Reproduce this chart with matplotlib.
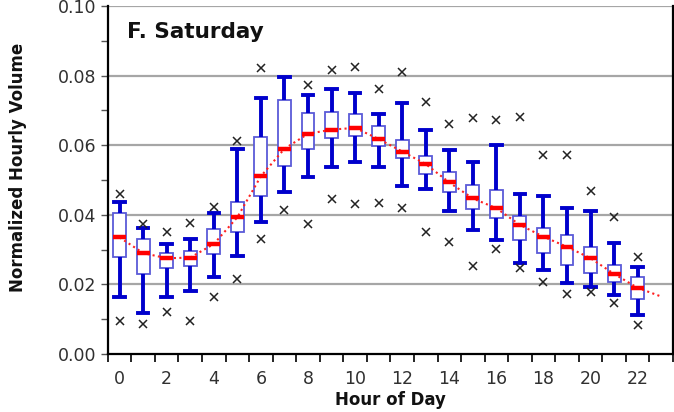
import matplotlib
matplotlib.use("Agg")
import matplotlib.pyplot as plt
from matplotlib.ticker import MultipleLocator, FixedLocator, NullFormatter

hours = list(range(23))
whislo = [0.0164, 0.0118, 0.0163, 0.0182, 0.0222, 0.0281, 0.0379, 0.0466, 0.0510, 0.0538, 0.0553, 0.0538,
          0.0484, 0.0474, 0.0411, 0.0355, 0.0329, 0.0262, 0.0240, 0.0204, 0.0192, 0.0168, 0.0111]
q1 = [0.0280, 0.0230, 0.0248, 0.0254, 0.0286, 0.0352, 0.0453, 0.0541, 0.0590, 0.0620, 0.0626, 0.0599,
      0.0563, 0.0517, 0.0467, 0.0416, 0.0392, 0.0327, 0.0291, 0.0257, 0.0233, 0.0206, 0.0159]
median = [0.0335, 0.0290, 0.0275, 0.0277, 0.0316, 0.0393, 0.0511, 0.0590, 0.0633, 0.0645, 0.0650, 0.0618,
          0.0582, 0.0546, 0.0493, 0.0447, 0.0419, 0.0371, 0.0337, 0.0308, 0.0275, 0.0230, 0.0190]
q3 = [0.0405, 0.0331, 0.0291, 0.0296, 0.0359, 0.0437, 0.0625, 0.0729, 0.0694, 0.0696, 0.0691, 0.0655,
      0.0616, 0.0570, 0.0524, 0.0486, 0.0472, 0.0397, 0.0363, 0.0341, 0.0308, 0.0257, 0.0221]
whishi = [0.0436, 0.0361, 0.0315, 0.0331, 0.0405, 0.0588, 0.0737, 0.0797, 0.0744, 0.0761, 0.0749, 0.0691,
          0.0723, 0.0645, 0.0585, 0.0551, 0.0601, 0.0460, 0.0455, 0.0421, 0.0411, 0.0320, 0.0251]
out_low = [0.0096, 0.0087, 0.0120, 0.0095, 0.0164, 0.0214, 0.0331, 0.0414, 0.0373, 0.0445, 0.0431, 0.0434,
           0.0419, 0.0352, 0.0323, 0.0254, 0.0303, 0.0248, 0.0206, 0.0173, 0.0177, 0.0147, 0.0084]
out_high = [0.0460, 0.0373, 0.0352, 0.0376, 0.0423, 0.0612, 0.0823, None, 0.0773, 0.0816, 0.0824, 0.0761,
            0.0810, 0.0725, 0.0662, 0.0679, 0.0673, 0.0681, 0.0572, 0.0573, 0.0469, 0.0395, 0.0279]
trend_hours = list(range(24))
trend = median + [0.0165]

xtick_labels = [str(h) for h in range(0, 23, 2)]
ytick_values = [0.00, 0.02, 0.04, 0.06, 0.08, 0.10]

stats = []
for i in hours:
    fl = [out_low[i]] + ([out_high[i]] if out_high[i] is not None else [])
    stats.append(dict(whislo=whislo[i], q1=q1[i], med=median[i], q3=q3[i],
                      whishi=whishi[i], fliers=fl))

TXT = "#303030"

fig = plt.figure(figsize=(6.74, 4.12), dpi=100)
ax = fig.add_axes([0.160, 0.141, 0.8385, 0.844])

for y in ytick_values[1:]:
    ax.axhline(y, color="#a6a6a6", lw=1.6, zorder=0)

ax.bxp(stats, positions=hours, widths=0.55, capwidths=0.45, patch_artist=True,
       boxprops=dict(facecolor="white", edgecolor="#5a5ad8", linewidth=1.3),
       whiskerprops=dict(color="#0000cc", linewidth=2.8, solid_capstyle="butt"),
       capprops=dict(color="#0000cc", linewidth=2.8),
       medianprops=dict(color="#ff0000", linewidth=3.2, solid_capstyle="butt", zorder=5),
       flierprops=dict(marker="x", markeredgecolor="#222222", markersize=6, markeredgewidth=1.1),
       manage_ticks=False, zorder=2)

ax.plot(trend_hours, trend, color="#ff2020", lw=1.5, ls=(0, (1, 1.6)), zorder=4)

ax.set_xlim(-0.5, 23.5)
ax.set_ylim(0, 0.10)
ax.xaxis.set_major_locator(FixedLocator([h - 0.5 for h in range(25)]))
ax.xaxis.set_major_formatter(NullFormatter())
for k, lab in enumerate(xtick_labels):
    ax.text(2 * k, -0.0045, lab, ha="center", va="top", fontsize=12.5, color=TXT,
            transform=ax.transData)
ax.set_yticks(ytick_values)
ax.set_yticklabels([f"{v:.2f}" for v in ytick_values], fontsize=12.5, color=TXT)
ax.yaxis.set_minor_locator(MultipleLocator(0.01))
ax.tick_params(axis="x", direction="out", length=6, width=1.2, color="black")
ax.tick_params(axis="y", which="both", direction="out", length=5, width=1.0, color="#555555")

for s in ["left", "bottom", "right"]:
    ax.spines[s].set_linewidth(1.6)
    ax.spines[s].set_color("black")
ax.spines["top"].set_visible(False)

ax.text(0.3, 0.0925, "F. Saturday", fontsize=15.5, fontweight="bold", ha="left", va="center",
        color="#111111")
ax.set_xlabel("Hour of Day", fontsize=12, fontweight="bold", labelpad=17, color="#111111")
ax.set_ylabel("Normalized Hourly Volume", fontsize=12, fontweight="bold", color="#111111")
ax.yaxis.set_label_coords(-0.143, 0.535)

fig.savefig("out.png", dpi=100)
